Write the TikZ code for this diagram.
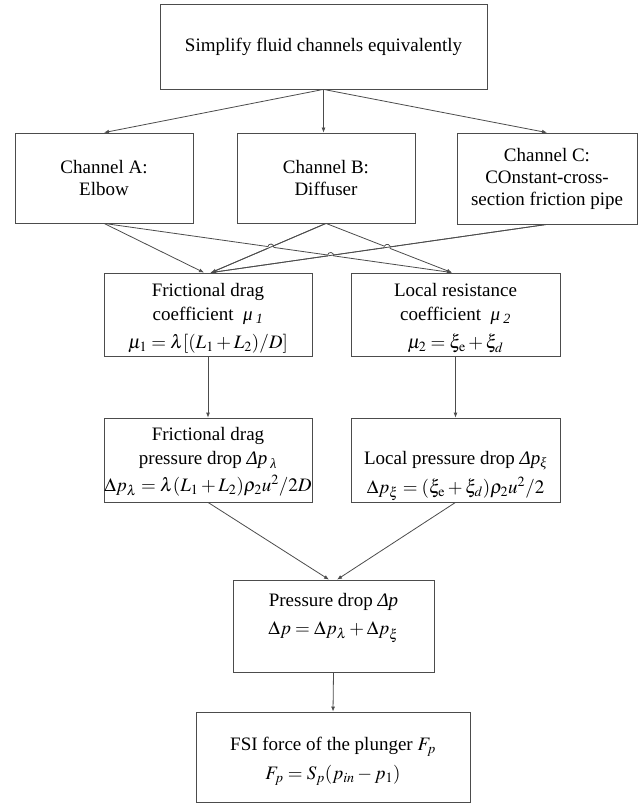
\documentclass[tikz,border=0pt]{standalone}
\usepackage{mathptmx}
\usepackage[no-math]{fontspec}
\setmainfont{Liberation Serif}
\newfontfamily\tnr{Liberation Serif}
\usetikzlibrary{arrows.meta,calc,intersections}
\begin{document}
\begin{tikzpicture}[x=1pt,y=-1pt,
  every node/.style={font=\tnr\fontsize{19}{24}\selectfont, text=black},
  box/.style={draw=black!70, line width=0.8pt, inner sep=0pt, align=center},
  txt/.style={inner sep=0pt, align=center},
  conn/.style={draw=black!70, line width=0.8pt, -{Latex[length=5pt,width=4pt]}},
  plainline/.style={draw=black!70, line width=0.8pt}]
\fill[white] (0,0) rectangle (641,805);
\useasboundingbox (0,0) rectangle (641,805);

\node[box, minimum width=327pt, minimum height=85pt] (top) at (323.5,46.5) {Simplify fluid channels equivalently};

\node[box, minimum width=178pt, minimum height=90pt, font=\tnr\fontsize{19}{22.5}\selectfont] (A) at (104,178) {Channel A:\\Elbow};
\node[box, minimum width=178pt, minimum height=90pt, font=\tnr\fontsize{19}{22.5}\selectfont] (B) at (326,178) {Channel B:\\Diffuser};
\node[box, minimum width=180pt, minimum height=91pt, font=\tnr\fontsize{19}{22}\selectfont] (C) at (547,178.5) {Channel C:\\COnstant-cross-\\section friction pipe};

\node[box, minimum width=208pt, minimum height=83pt] (F1) at (208,314.5) {};
\node[txt] (F1t) at ($(F1.center)+(0,4)$)
  {Frictional drag\\coefficient \ {\itshape μ\,\textsubscript{1}}\\[4pt] $\mu_1=\lambda[(L_1+L_2)/D]$};
\node[box, minimum width=209pt, minimum height=83pt] (L1) at (455.5,314.5) {};
\node[txt] (L1t) at ($(L1.center)+(0,4)$)
  {Local resistance\\coefficient \ {\itshape μ\,\textsubscript{2}}\\[4pt] $\mu_2=\xi_{\mathrm{e}}+\xi_d$};

\node[box, minimum width=208pt, minimum height=84pt] (F2) at (208,460) {};
\node[txt] (F2t) at ($(F2.center)+(0,2)$)
  {Frictional drag\\pressure drop {\itshape Δp\,\textsubscript{λ}}\\[3pt] $\Delta p_\lambda=\lambda(L_1+L_2)\rho_2u^2/2D$};
\node[box, minimum width=209pt, minimum height=84pt] (L2) at (455.5,460) {};
\node[txt] (L2t) at ($(L2.center)+(0,16)$)
  {Local pressure drop {\itshape Δp\textsubscript{ξ}}\\[5pt] $\Delta p_\xi=(\xi_{\mathrm{e}}+\xi_d)\rho_2u^2/2$};

\node[box, minimum width=201pt, minimum height=92pt] (P) at (333.5,626) {};
\node[txt] (Pt) at ($(P.center)+(0,-8)$)
  {Pressure drop {\itshape Δp}\\[4pt] $\Delta p=\Delta p_\lambda+\Delta p_\xi$};

\node[box, minimum width=274pt, minimum height=90pt] (FSI) at (333,757) {};
\node[txt] (FSIt) at ($(FSI.center)+(0,4)$)
  {FSI force of the plunger $F_p$\\[5pt] $F_p=S_p(p_{in}-p_1)$};

% entry points
\coordinate (F1in1) at ($(F1.north)+(-4,0)$);
\coordinate (F1in2) at ($(F1.north)+(3,0)$);
\coordinate (L1in) at ($(L1.north)+(-3.5,0)$);
\coordinate (Pin1) at ($(P.north)+(-4.5,0)$);
\coordinate (Pin2) at ($(P.north)+(3.5,0)$);

% top fan-out
\draw[conn] (top.south) -- (A.north);
\draw[conn] (top.south) -- (top.south |- B.north);
\draw[conn] (top.south) -- (C.north);

% crossing connectors
\draw[conn, name path=aF] (A.south) -- (F1in1);
\draw[conn, name path=aL] (A.south) -- (L1in);
\draw[conn, name path=bF] (B.south) -- (F1in2);
\draw[conn, name path=bL] (B.south) -- (L1in);
\draw[conn, name path=cF] (C.south) -- (F1in2);

\path[name intersections={of=aL and bF, by=X1}];
\path[name intersections={of=aL and cF, by=X2}];
\path[name intersections={of=cF and bL, by=X3}];

\fill[white] (X1) circle[radius=3pt];
\fill[white] (X2) circle[radius=3pt];
\fill[white] (X3) circle[radius=3pt];

\draw[plainline] (B.south) -- (F1in2);
\draw[plainline] (C.south) -- (F1in2);

\draw[plainline] let \p1=($(L1in)-(A.south)$), \n1={atan2(\y1,\x1)} in
  ($(X1)!3pt!(A.south)$) arc[start angle=\n1+180, delta angle=-180, radius=3pt];
\draw[plainline] let \p1=($(L1in)-(A.south)$), \n1={atan2(\y1,\x1)} in
  ($(X2)!3pt!(A.south)$) arc[start angle=\n1+180, delta angle=-180, radius=3pt];
\draw[plainline] let \p1=($(L1in)-(B.south)$), \n1={atan2(\y1,\x1)} in
  ($(X3)!3pt!(B.south)$) arc[start angle=\n1+180, delta angle=-180, radius=3pt];

% vertical flow
\draw[conn] (F1.south) -- (F2.north);
\draw[conn] (L1.south) -- (L2.north);
\draw[conn] (F2.south) -- (Pin1);
\draw[conn] (L2.south) -- (Pin2);
\draw[conn] (P.south) -- (FSI.north);
\end{tikzpicture}
\end{document}
